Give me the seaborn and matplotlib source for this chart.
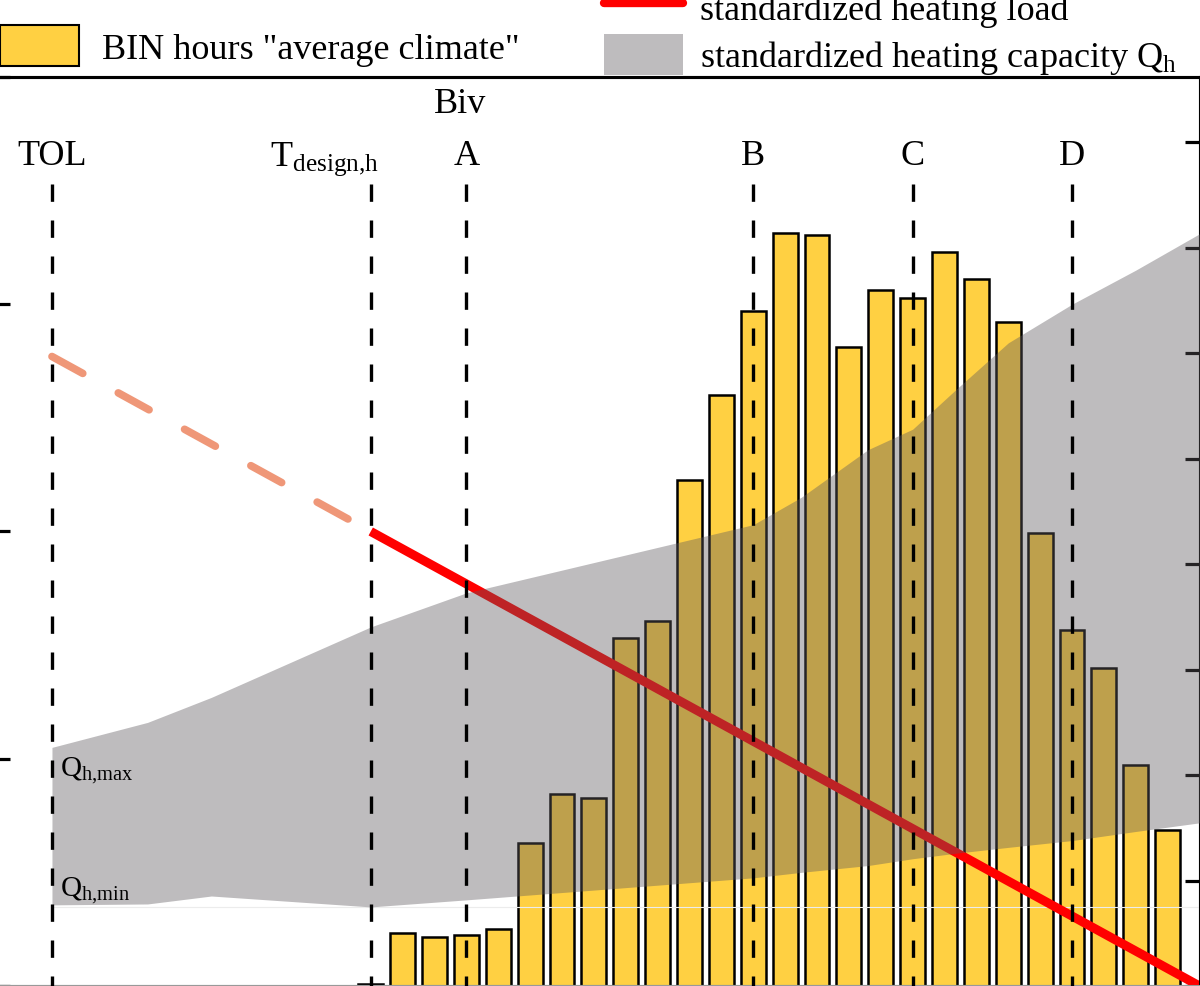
import matplotlib.pyplot as plt
import seaborn as sns
from matplotlib.lines import Line2D
from matplotlib.patches import Patch

# BIN hours "average climate" per outdoor temperature bin
bin_temps = list(range(-10, 16))
bin_hours = [1, 25, 23, 24, 27, 68, 91, 89, 165, 173, 240, 280, 320, 357, 356,
             303, 330, 326, 348, 335, 315, 215, 169, 151, 105, 74]

# standardized heating load (kW)
load_temps = [-20, -10, 16]
load_kw = [2.77, 2.0, 0.0]

# standardized heating capacity envelope Q_h (kW)
cap_temps = [-20, -17, -15, -10, -7, 2, 3.5, 5.6, 7, 8.4, 10, 12, 14, 16]
cap_max = [1.05, 1.16, 1.27, 1.58, 1.73, 2.03, 2.15, 2.36, 2.45, 2.63, 2.83, 3.0, 3.15, 3.31]
cap_min = [0.357, 0.361, 0.396, 0.348, 0.379, 0.476, 0.50, 0.53, 0.56, 0.585, 0.61, 0.64, 0.68, 0.718]

# reference temperatures
ref_names = ["TOL", r"T$_{\mathrm{design{,}h}}$", "A", "B", "C", "D"]
ref_temps = [-20, -10, -7, 2, 7, 12]

bar_yellow = "#FFD042"
load_red = "#FF0000"
tol_salmon = "#EF9778"
cap_gray = "#5d585d"

sns.set_theme(style="white")
plt.rcParams["font.family"] = ["Liberation Serif", "DejaVu Serif"]
plt.rcParams["mathtext.fontset"] = "custom"
plt.rcParams["mathtext.rm"] = "Liberation Serif"
plt.rcParams["mathtext.it"] = "Liberation Serif:italic"
plt.rcParams["text.color"] = "black"

fig = plt.figure(figsize=(12, 9.87), dpi=100)
xmin, xmax = -21.8, 16
ax = fig.add_axes([-0.0045, 0.0, 1.0041, 0.921])

# bars on the hours axis (drawn first, so the capacity band lies on top)
sns.barplot(x=bin_temps, y=bin_hours, native_scale=True, width=0.78,
            color=bar_yellow, edgecolor="black", linewidth=1.8, saturation=1, ax=ax)
ax2 = ax.twinx()

ax.set_xlim(xmin, xmax)
ax.set_ylim(0, 431)
ax.set_yticks(range(0, 431, 50))
ax.yaxis.tick_right()
ax.tick_params(axis="y", direction="in", length=10.5, width=2.3, colors="black",
               labelright=False, labelleft=False)
ax.set_xticks([])
ax.set_xlabel("")
ax.set_ylabel("")

ax2.set_xlim(xmin, xmax)
ax2.set_ylim(0, 4.0)
ax2.set_yticks([0, 1, 2, 3, 4])
ax2.yaxis.tick_left()
ax2.tick_params(axis="y", direction="in", length=10.5, width=2.3, colors="black",
                labelright=False, labelleft=False)

# heating load: dashed below design temperature, solid above
sns.lineplot(x=load_temps[:2], y=load_kw[:2], color=tol_salmon, linewidth=5.5,
             ax=ax2, zorder=2)
ax2.lines[-1].set_dashes((4.6, 5.3))
ax2.lines[-1].set_dash_capstyle("round")
sns.lineplot(x=load_temps[1:], y=load_kw[1:], color=load_red, linewidth=6.5, ax=ax2, zorder=2)
ax2.lines[-1].set_solid_capstyle("butt")

# heating capacity band
ax2.fill_between(cap_temps, cap_min, cap_max, color=cap_gray, alpha=0.4, linewidth=0, zorder=3)
ax2.plot([cap_temps[0], cap_temps[-1]], [cap_min[3], cap_min[3]], color="#ececec", lw=0.8, zorder=1)

# reference temperature markers
for name, t in zip(ref_names, ref_temps):
    ax2.plot([t, t], [3.53, 0], color="black", lw=2.4, dashes=(5.2, 5.6), zorder=4)
    tx = t - 1.45 if name.startswith("T$") else t
    ax2.text(tx, 3.615, name, ha="center", va="baseline", fontsize=26)
ax2.text(-7.2, 3.846, "Biv", ha="center", va="baseline", fontsize=26)
ax2.text(-19.75, 0.925, r"Q$_{\mathrm{h{,}max}}$", ha="left", va="baseline", fontsize=21)
ax2.text(-19.75, 0.40, r"Q$_{\mathrm{h{,}min}}$", ha="left", va="baseline", fontsize=21)

for a in (ax, ax2):
    for side in ("top", "right", "left"):
        a.spines[side].set_color("black")
        a.spines[side].set_linewidth(2.2)
    a.spines["bottom"].set_color("#999999")
    a.spines["bottom"].set_linewidth(1.5)

# legends
fig.legend(handles=[Patch(facecolor=bar_yellow, edgecolor="black", linewidth=1.5)],
           labels=['BIN hours "average climate"'], loc="upper left",
           bbox_to_anchor=(0.0, 0.974), frameon=False, fontsize=26,
           handlelength=2.2, handleheight=1.4, handletextpad=0.63,
           borderpad=0, borderaxespad=0)
fig.legend(handles=[Line2D([0], [0], color=load_red, lw=6, solid_capstyle="round"),
                    Patch(facecolor=cap_gray, alpha=0.4, linewidth=0)],
           labels=["standardized heating load", r"standardized heating capacity Q$_{\mathrm{h}}$"],
           loc="upper left", bbox_to_anchor=(0.503, 1.0128), frameon=False, fontsize=26,
           handlelength=2.19, handleheight=1.35, handletextpad=0.47, labelspacing=0.2,
           borderpad=0, borderaxespad=0)

fig.savefig("out.png", dpi=100)
